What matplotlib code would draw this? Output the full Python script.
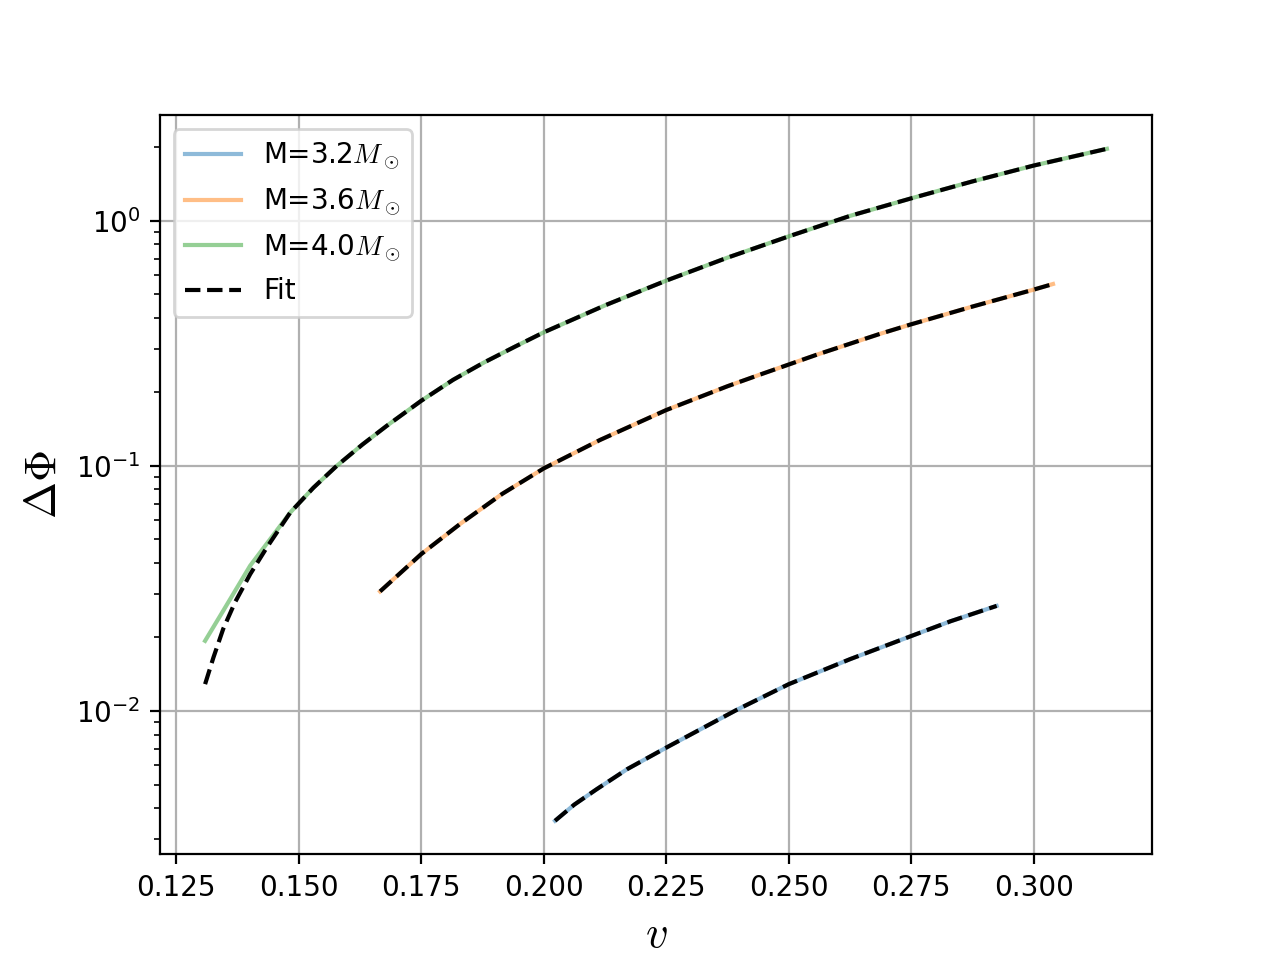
import matplotlib
matplotlib.use("Agg")
import matplotlib.pyplot as plt

plt.rcParams['mathtext.fontset'] = 'cm'

# M = 3.2 Msun
v_32 = [0.2023, 0.2062, 0.2108, 0.2170, 0.2250, 0.2394, 0.2500, 0.2625, 0.2750, 0.2830, 0.2924]
dphi_32 = [0.00356, 0.00414, 0.00479, 0.00578, 0.00708, 0.01010, 0.01285, 0.01625,
           0.0202, 0.0232, 0.0268]
fit_32 = [0.00356, 0.00414, 0.00479, 0.00578, 0.00708, 0.01010, 0.01285, 0.01625,
          0.0202, 0.0232, 0.0268]

# M = 3.6 Msun
v_36 = [0.1666, 0.1750, 0.1829, 0.1915, 0.2000, 0.2115, 0.2250, 0.2375, 0.2441,
        0.2560, 0.2686, 0.2749, 0.2875, 0.3000, 0.3039]
dphi_36 = [0.0307, 0.0436, 0.0578, 0.0767, 0.0975, 0.1274, 0.1687, 0.211, 0.2352,
           0.285, 0.345, 0.377, 0.446, 0.523, 0.551]
fit_36 = [0.0307, 0.0436, 0.0578, 0.0767, 0.0975, 0.1274, 0.1687, 0.211, 0.2352,
          0.285, 0.345, 0.377, 0.446, 0.523, 0.551]

# M = 4.0 Msun
v_40 = [0.1309, 0.1346, 0.1401, 0.1483, 0.1530, 0.1578, 0.1630, 0.1680, 0.1750,
        0.1815, 0.1877, 0.1940, 0.2000, 0.2125, 0.2250, 0.2375, 0.2502, 0.2625,
        0.2751, 0.2875, 0.3000, 0.3149]
dphi_40 = [0.0193, 0.0256, 0.0391, 0.0645, 0.0813, 0.100, 0.122, 0.1456, 0.184,
           0.224, 0.263, 0.305, 0.350, 0.451, 0.569, 0.706, 0.865, 1.045,
           1.234, 1.445, 1.677, 1.962]
v_fit_40 = [0.1309, 0.1326, 0.1346, 0.1370, 0.1401, 0.1435, 0.1483, 0.1530, 0.1578,
            0.1630, 0.1680, 0.1750, 0.1815, 0.1877, 0.1940, 0.2000, 0.2125, 0.2250,
            0.2375, 0.2502, 0.2625, 0.2751, 0.2875, 0.3000, 0.3149]
fit_40 = [0.01285, 0.0165, 0.0216, 0.0277, 0.0361, 0.0464, 0.0645, 0.0813, 0.100,
          0.122, 0.1456, 0.184, 0.224, 0.263, 0.305, 0.350, 0.451, 0.569,
          0.706, 0.865, 1.045, 1.234, 1.445, 1.677, 1.962]

labels = [r'M=3.2$M_\odot$', r'M=3.6$M_\odot$', r'M=4.0$M_\odot$']

fig, ax = plt.subplots(figsize=(6.4, 4.8), dpi=200)

ax.plot(v_32, dphi_32, color='C0', alpha=0.5, lw=1.5, label=labels[0])
ax.plot(v_32, fit_32, color='k', ls='--', lw=1.5, label='Fit')
ax.plot(v_36, dphi_36, color='C1', alpha=0.5, lw=1.5, label=labels[1])
ax.plot(v_36, fit_36, color='k', ls='--', lw=1.5)
ax.plot(v_40, dphi_40, color='C2', alpha=0.5, lw=1.5, label=labels[2])
ax.plot(v_fit_40, fit_40, color='k', ls='--', lw=1.5)

ax.set_yscale('log')
ax.grid(True)
ax.set_xlabel(r'$v$', fontsize=16)
ax.set_ylabel(r'$\Delta\Phi$', fontsize=16)

handles, labs = ax.get_legend_handles_labels()
order = [labs.index(labels[0]), labs.index(labels[1]), labs.index(labels[2]), labs.index('Fit')]
ax.legend([handles[i] for i in order], [labs[i] for i in order], loc='upper left')

fig.savefig('out.png', dpi=200)
